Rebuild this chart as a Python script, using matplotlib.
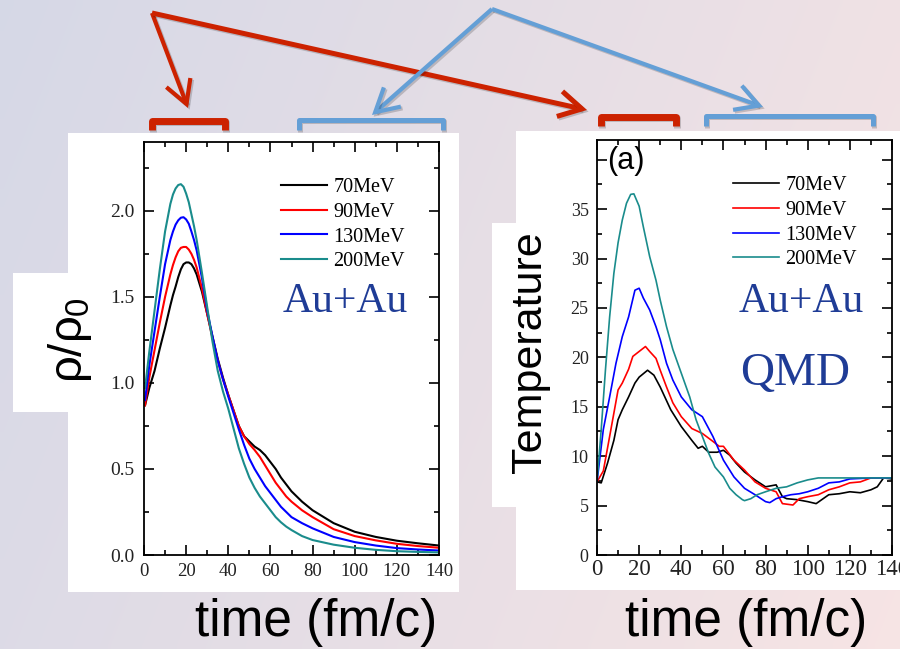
import numpy as np
import matplotlib
matplotlib.use("Agg")
import matplotlib.pyplot as plt
from matplotlib.patches import Rectangle
from matplotlib import patheffects as pe

plt.rcParams['mathtext.fontset'] = 'custom'
plt.rcParams['mathtext.rm'] = 'Liberation Sans'
plt.rcParams['mathtext.it'] = 'Liberation Sans'

# ---------------- data ----------------
labels = ['70MeV', '90MeV', '130MeV', '200MeV']
colors = ['black', '#ff0000', '#0000ff', '#1a8c8c']

# density rho/rho0 vs time
t_rho = [0.5, 2.5, 5, 7.5, 10, 12.5, 13.75, 15, 16.25, 17.5, 18.75, 20, 21.25, 22.5, 23.75, 25, 27.5, 30, 32.5,
         35, 37.5, 40, 45, 47.5, 50, 52.5, 55, 57.5, 60, 62.5, 65, 67.5, 70, 75, 80, 90, 100, 110, 120, 130, 140]
rho_70 = [0.87, 0.97, 1.07, 1.20, 1.32, 1.45, 1.51, 1.56, 1.615, 1.66, 1.69, 1.70, 1.70, 1.69, 1.665, 1.63, 1.53,
          1.40, 1.27, 1.14, 1.03, 0.93, 0.75, 0.69, 0.66, 0.63, 0.61, 0.58, 0.54, 0.50, 0.45, 0.41, 0.37, 0.31,
          0.26, 0.185, 0.135, 0.105, 0.083, 0.068, 0.055]
rho_90 = [0.87, 1.03, 1.19, 1.35, 1.50, 1.63, 1.685, 1.73, 1.765, 1.785, 1.79, 1.79, 1.775, 1.75, 1.715, 1.67, 1.55,
          1.40, 1.26, 1.13, 1.02, 0.93, 0.75, 0.69, 0.645, 0.61, 0.57, 0.52, 0.47, 0.42, 0.38, 0.34, 0.31, 0.26,
          0.22, 0.15, 0.11, 0.085, 0.065, 0.052, 0.042]
rho_130 = [0.90, 1.10, 1.30, 1.50, 1.69, 1.83, 1.88, 1.92, 1.945, 1.96, 1.963, 1.95, 1.925, 1.88, 1.83, 1.77, 1.61,
           1.42, 1.27, 1.13, 1.02, 0.92, 0.73, 0.64, 0.56, 0.50, 0.45, 0.40, 0.36, 0.32, 0.28, 0.25, 0.22, 0.185,
           0.155, 0.105, 0.075, 0.055, 0.04, 0.032, 0.026]
rho_200 = [0.97, 1.18, 1.42, 1.66, 1.88, 2.04, 2.095, 2.13, 2.15, 2.155, 2.14, 2.10, 2.05, 1.98, 1.91, 1.83, 1.64,
           1.44, 1.24, 1.07, 0.95, 0.85, 0.62, 0.53, 0.45, 0.39, 0.34, 0.30, 0.26, 0.22, 0.19, 0.165, 0.145, 0.11,
           0.087, 0.06, 0.042, 0.03, 0.022, 0.018, 0.015]

# temperature vs time
t_T70 = [0, 2, 5, 8, 10, 12, 15, 18, 20, 24, 27, 30, 35, 40, 45, 48, 50, 53, 57, 60, 63, 66, 70, 75, 80, 85, 88,
         90, 95, 100, 104, 110, 115, 120, 125, 130, 133, 136, 140]
T_70 = [7.4, 7.3, 9.3, 11.6, 13.7, 14.7, 16.0, 17.4, 18.0, 18.7, 18.2, 17.0, 14.7, 13.0, 11.6, 10.8, 11.0, 10.4, 10.4,
        10.6, 10.1, 9.3, 8.4, 7.6, 6.9, 7.1, 5.9, 5.7, 5.6, 5.4, 5.2, 6.1, 6.2, 6.4, 6.3, 6.6, 6.9, 7.8, 7.7]
t_T90 = [0, 3, 6, 10, 12, 15, 17, 20, 23, 25, 28, 30, 33, 36, 40, 45, 50, 55, 58, 60, 65, 70, 75, 80, 85, 88, 93,
         96, 100, 105, 110, 115, 120, 125, 130, 140]
T_90 = [7.4, 8.5, 12.0, 16.7, 17.4, 18.8, 20.1, 20.6, 21.1, 20.6, 19.9, 18.7, 17.0, 15.4, 14.0, 12.8, 12.3, 11.5, 11.0,
        11.0, 9.6, 8.6, 7.4, 6.75, 6.4, 5.2, 5.06, 5.7, 5.9, 6.1, 6.6, 6.9, 7.3, 7.4, 7.8, 7.8]
t_T130 = [0, 3, 6, 9, 12, 15, 18, 20, 22, 25, 28, 30, 33, 36, 40, 45, 50, 55, 60, 65, 70, 75, 80, 82, 85, 88, 92,
          96, 100, 105, 110, 115, 120, 130, 140]
T_130 = [7.4, 12.7, 16.0, 19.4, 22.1, 24.1, 26.8, 27.0, 26.0, 24.8, 23.1, 21.8, 19.4, 17.7, 16.0, 14.7, 14.0, 12.0, 9.6,
         7.9, 6.75, 6.1, 5.4, 5.3, 5.7, 5.9, 6.1, 6.2, 6.4, 6.75, 7.3, 7.4, 7.7, 7.8, 7.8]
t_T200 = [0, 2, 4, 6, 8, 10, 12, 14, 16, 17.5, 20, 22, 25, 28, 30, 33, 36, 40, 44, 47, 50, 53, 56, 60, 63, 66, 69,
          70, 73, 76, 80, 85, 90, 95, 100, 105, 110, 120, 140]
T_200 = [7.4, 12.7, 18.7, 24.1, 28.5, 31.6, 33.9, 35.6, 36.5, 36.55, 35.3, 33.2, 30.2, 27.8, 25.8, 23.1, 20.8, 18.4, 16.0,
         13.7, 12.0, 10.3, 8.9, 7.9, 6.75, 6.1, 5.6, 5.5, 5.7, 6.1, 6.4, 6.75, 6.9, 7.3, 7.6, 7.8, 7.8, 7.8, 7.8]

x_ticks = [0, 20, 40, 60, 80, 100, 120, 140]
rho_ticks = [0.0, 0.5, 1.0, 1.5, 2.0]
rho_ticklabels = ['0.0', '0.5', '1.0', '1.5', '2.0']
T_ticks = [0, 5, 10, 15, 20, 25, 30, 35, 40]
T_ticklabels = ['0', '5', '10', '15', '20', '25', '30', '35', '']

# ---------------- figure ----------------
W, H = 900, 649
fig = plt.figure(figsize=(9, 6.49), dpi=100)

bg = fig.add_axes([0, 0, 1, 1])
bg.set_xlim(0, W)
bg.set_ylim(H, 0)
bg.axis('off')

# slide background gradient
gx = np.linspace(0, 1, 120)
gy = np.linspace(0, 1, 90)
X, Y = np.meshgrid(gx, gy)
tt = np.clip(0.78 * X + 0.22 * Y, 0, 1)[..., None]
c0 = np.array([0.838, 0.848, 0.905])
c1 = np.array([0.968, 0.895, 0.895])
img = c0 * (1 - tt) + c1 * tt
bg.imshow(img, extent=(0, W, H, 0), aspect='auto', interpolation='bilinear', zorder=0)

# white panels
for (x0, y0, x1, y1) in [(68, 133, 459, 592), (13, 273, 70, 412),
                         (516, 131, 900, 590), (492, 223, 518, 507)]:
    bg.add_patch(Rectangle((x0, y0), x1 - x0, y1 - y0, facecolor='white', edgecolor='none', zorder=1))

red = '#cc2200'
blue = '#649fd6'
shadow = [pe.SimpleLineShadow(offset=(1.2, -1.2), alpha=0.18), pe.Normal()]

# brackets
def bracket(x1, x2, ytop, ybot, col, lw):
    bg.plot([x1, x1, x2, x2], [ybot, ytop, ytop, ybot], color=col, lw=lw,
            solid_joinstyle='round', solid_capstyle='butt', zorder=3, path_effects=shadow)

bracket(151.5, 224.5, 120.5, 130, red, 5.0)
bracket(298.5, 442.5, 119.5, 130, blue, 3.6)
bracket(600.5, 675.5, 116.5, 126, red, 5.0)
bracket(705.5, 872.5, 115.5, 126, blue, 3.6)

# arrows
def arrow(p0, p1, col, lw):
    bg.annotate('', xy=p1, xytext=p0, zorder=4,
                arrowprops=dict(arrowstyle='->,head_length=0.75,head_width=0.42', color=col, lw=lw,
                                shrinkA=0, shrinkB=0, mutation_scale=22,
                                joinstyle='miter', capstyle='butt',
                                path_effects=shadow))

arrow((152, 13), (188, 108), red, 3.0)
arrow((152, 13), (587, 110), red, 3.6)
arrow((492, 9), (372, 115), blue, 3.0)
arrow((492, 9), (763, 107), blue, 3.0)

serif = 'Liberation Serif'
sans = 'Liberation Sans'
au_col = '#1f3c96'


def style_axes(ax, xlab_size, ylab_size, xpad, ypad):
    ax.set_facecolor('none')
    for s in ax.spines.values():
        s.set_linewidth(1.3)
    ax.tick_params(which='both', direction='in', top=True, right=True, width=1.2)
    ax.tick_params(which='major', length=7)
    ax.tick_params(which='minor', length=3.5)
    ax.tick_params(axis='x', labelsize=xlab_size, pad=xpad)
    ax.tick_params(axis='y', labelsize=ylab_size, pad=ypad)
    for lab in ax.get_xticklabels() + ax.get_yticklabels():
        lab.set_fontfamily(serif)
        lab.set_color('#222222')


# ---- left panel ----
axL = fig.add_axes([144 / W, 1 - 555 / H, 295 / W, 413 / H])
for y, c, lab in zip([rho_70, rho_90, rho_130, rho_200], colors, labels):
    axL.plot(t_rho, y, color=c, lw=1.5, label=lab)
axL.set_xlim(0, 140)
axL.set_ylim(0, 2.4)
axL.set_xticks(x_ticks)
axL.set_xticks(np.arange(0, 141, 10), minor=True)
axL.set_yticks(rho_ticks)
axL.set_yticklabels(rho_ticklabels)
axL.set_yticks(np.arange(0, 2.41, 0.25), minor=True)
style_axes(axL, 13.5, 14, 6, 7)
legL = axL.legend(loc='upper left', bbox_to_anchor=(0.464, 0.913), frameon=False,
                  prop={'family': serif, 'size': 14.5}, handlelength=2.3, handletextpad=0.3,
                  labelspacing=0.28, borderpad=0, borderaxespad=0)
axL.text(0.471, 0.588, 'Au+Au', transform=axL.transAxes, fontsize=30, family=serif,
         color=au_col, va='baseline', ha='left')

# ---- right panel ----
axR = fig.add_axes([597 / W, 1 - 555 / H, 295 / W, 415 / H])
for tx, y, c, lab in zip([t_T70, t_T90, t_T130, t_T200], [T_70, T_90, T_130, T_200], colors, labels):
    axR.plot(tx, y, color=c, lw=1.2, label=lab)
axR.set_xlim(0, 140)
axR.set_ylim(0, 42)
axR.set_xticks(x_ticks)
axR.set_xticks(np.arange(0, 141, 10), minor=True)
axR.set_yticks(T_ticks)
axR.set_yticklabels(T_ticklabels)
axR.set_yticks(np.arange(0, 42.1, 2.5), minor=True)
style_axes(axR, 16.5, 13, 3, 6)
legR = axR.legend(loc='upper left', bbox_to_anchor=(0.461, 0.913), frameon=False,
                  prop={'family': serif, 'size': 14.5}, handlelength=2.3, handletextpad=0.3,
                  labelspacing=0.28, borderpad=0, borderaxespad=0)
axR.text(0.481, 0.586, 'Au+Au', transform=axR.transAxes, fontsize=30, family=serif,
         color=au_col, va='baseline', ha='left')
axR.text(0.485, 0.41, 'QMD', transform=axR.transAxes, fontsize=34, family=serif,
         color=au_col, va='baseline', ha='left')
axR.text(0.034, 0.985, '(a)', transform=axR.transAxes, fontsize=22, family=sans,
         color='black', va='top', ha='left')

# big slide labels
bg.text(316, 636, 'time (fm/c)', fontsize=37, family=sans, ha='center', va='baseline', zorder=5)
bg.text(746, 636, 'time (fm/c)', fontsize=37, family=sans, ha='center', va='baseline', zorder=5)
bg.text(530, 352, 'Temperature', fontsize=31, family=sans, rotation=90, ha='center', va='center', zorder=5)
bg.text(70, 340, r'$\rho/\rho_0$', fontsize=34, rotation=90, ha='center', va='center', zorder=5)

fig.savefig('out.png', dpi=100)
